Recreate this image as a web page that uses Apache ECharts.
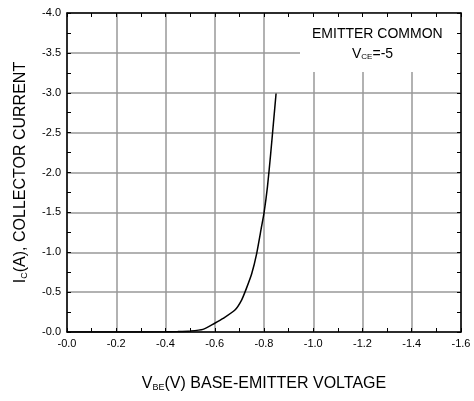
<!DOCTYPE html>
<html>
<head>
<meta charset="utf-8">
<script src="https://cdn.jsdelivr.net/npm/echarts@6/dist/echarts.min.js"></script>
<style>
html,body{margin:0;padding:0;background:#fff;}
#chart{width:474px;height:401px;}
</style>
</head>
<body>
<div id="chart"></div>
<script>
// VBE (V) vs IC (A)
var vbe = [0, -0.2, -0.4, -0.45, -0.5, -0.552, -0.6, -0.634, -0.682, -0.709, -0.729, -0.75, -0.77, -0.79, -0.80, -0.814, -0.827, -0.838, -0.849]
var ic = [0, 0, -0.002, -0.005, -0.012, -0.033, -0.11, -0.17, -0.275, -0.40, -0.55, -0.73, -0.98, -1.32, -1.49, -1.82, -2.23, -2.61, -2.99]

var fmt = function(v){
    if(Math.abs(v) < 1e-9) return '-0.0'
    return v.toFixed(1)
}

var chart = echarts.init(document.getElementById('chart'))
var font = 'Liberation Sans, Arial, sans-serif'
var subStyle = {fontSize:9, fontFamily:font, color:'#000', verticalAlign:'bottom'}
var mainStyle = {fontSize:16, fontFamily:font, color:'#000'}
var boxMain = {fontSize:14, fontFamily:font, color:'#000'}

function tickAxis(pos){
    return {
        type:'value', position:pos, min: pos=='top' ? -1.6 : -4, max:0,
        interval: pos=='top' ? 0.2 : 0.5, inverse:true, z:5,
        axisLine:{show:true, onZero:false, lineStyle:{color:'#000', width:1.5}},
        axisTick:{show:true, inside:true, length:4, lineStyle:{color:'#000'}},
        minorTick:{show:true, splitNumber:2, length:4, lineStyle:{color:'#000'}},
        axisLabel:{show:false},
        splitLine:{show:false}
    }
}

var options = {
    animation:false,
    grid:{left:67, right:13, top:13, bottom:69},
    xAxis:[{
        type:'value', min:-1.6, max:0, interval:0.2, inverse:true,
        name:'{m|V}{s|BE}{m|(V) BASE-EMITTER VOLTAGE}',
        nameLocation:'middle', nameGap:44,
        nameTextStyle:{rich:{m:mainStyle, s:subStyle}},
        axisLine:{onZero:false, lineStyle:{color:'#000', width:1.5}},
        axisTick:{inside:true, length:4, lineStyle:{color:'#000'}},
        minorTick:{show:true, splitNumber:2, length:4, lineStyle:{color:'#000'}},
        axisLabel:{formatter:fmt, color:'#000', fontSize:11, fontFamily:font, margin:6},
        splitLine:{show:true, lineStyle:{color:'#999', width:1.5}}
    }, tickAxis('top')],
    yAxis:[{
        type:'value', min:-4, max:0, interval:0.5, inverse:true,
        name:'{m|I}{s|C}{m|(A), COLLECTOR CURRENT}',
        nameLocation:'middle', nameGap:38,
        nameTextStyle:{rich:{m:mainStyle, s:subStyle}},
        axisLine:{show:true, onZero:false, lineStyle:{color:'#000', width:1.5}},
        axisTick:{show:true, inside:true, length:4, lineStyle:{color:'#000'}},
        minorTick:{show:true, splitNumber:2, length:4, lineStyle:{color:'#000'}},
        axisLabel:{formatter:fmt, color:'#000', fontSize:11, fontFamily:font, margin:6},
        splitLine:{show:true, lineStyle:{color:'#999', width:1.5}}
    }, tickAxis('right')],
    graphic:[{
        type:'rect', z:3,
        shape:{x:300, y:13, width:161, height:59},
        style:{fill:'#fff'}
    },{
        type:'text', z:4, left:312, top:27,
        style:{text:'EMITTER COMMON', font:'14px ' + font, fill:'#000'}
    },{
        type:'text', z:4, left:352, top:47,
        style:{
            text:'{m|V}{s|CE}{m|=-5}',
            rich:{m:boxMain, s:{fontSize:8, fontFamily:font, color:'#000', verticalAlign:'bottom'}}
        }
    }],
    series:[{
        type:'line',
        data:vbe.map(function(v,i){ return [v, ic[i]] }),
        smooth:0.2,
        showSymbol:false,
        lineStyle:{color:'#000', width:1.5},
        z:2
    }]
}
chart.setOption(options)
window.onresize = function(){ chart.resize() }
</script>
</body>
</html>
